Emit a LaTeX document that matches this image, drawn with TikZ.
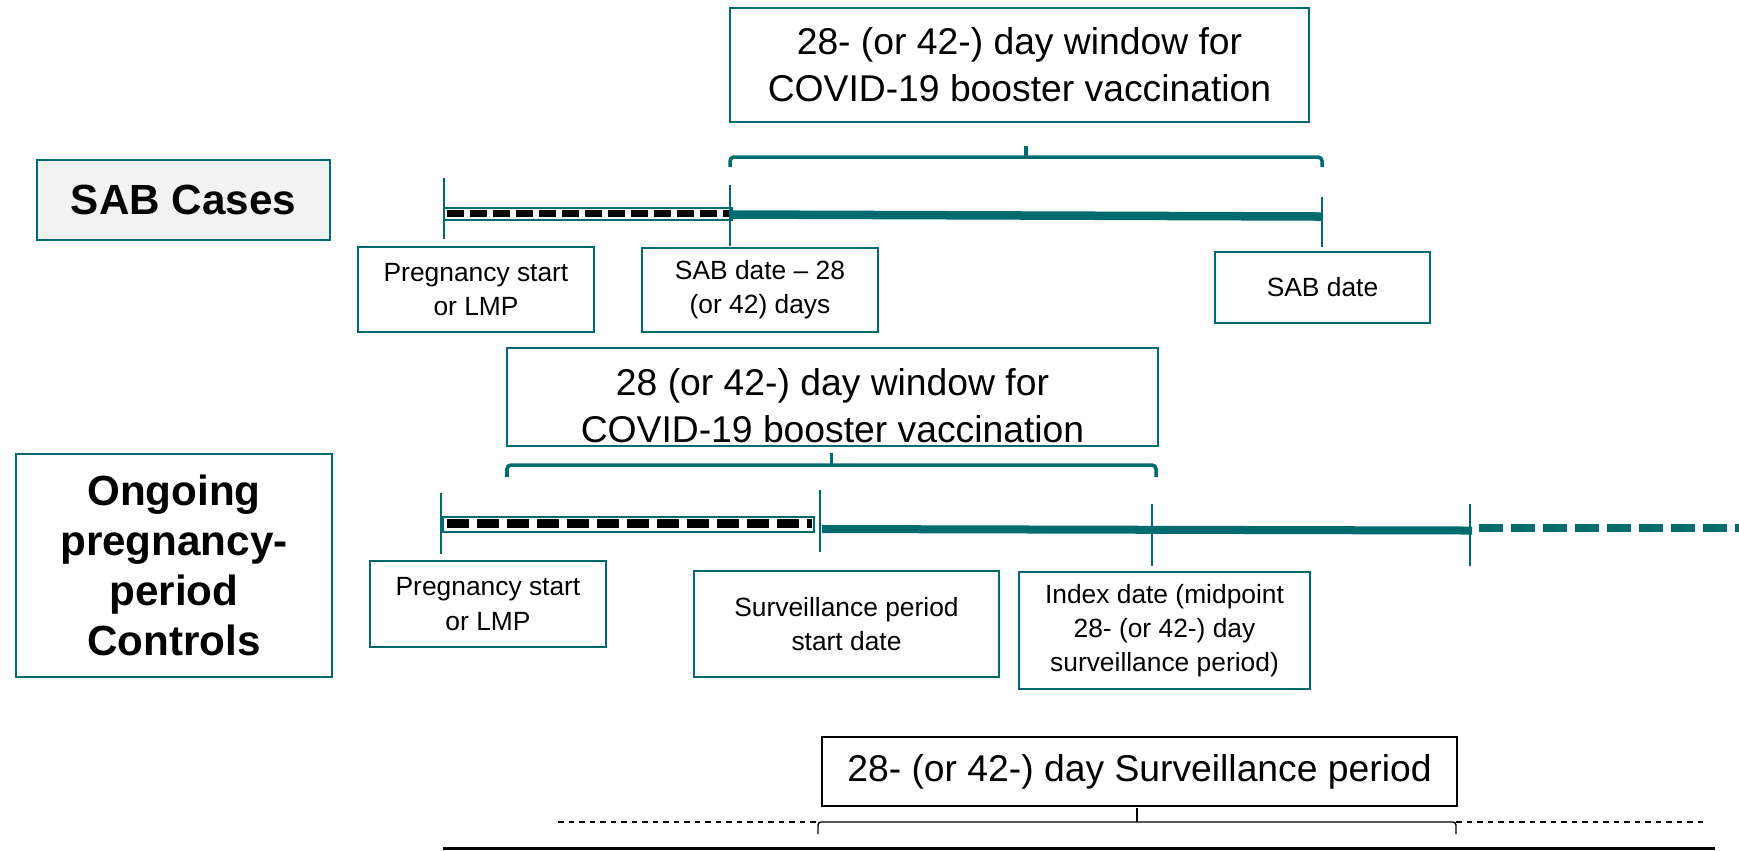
\documentclass[tikz,border=0pt]{standalone}
\usepackage{fontspec}
\setmainfont{Liberation Sans}
\usepackage{tikz}
\usetikzlibrary{positioning,calc}
\definecolor{cteal}{HTML}{006B6E}
\definecolor{cpanel}{HTML}{F2F2F2}
\newcommand{\fbig}{\fontsize{10.6}{13.4}\selectfont}
\newcommand{\fsmall}{\fontsize{7.5}{9.7}\selectfont}
\newcommand{\fgrp}{\fontsize{12}{14.2}\selectfont\bfseries}

\begin{document}
\begin{tikzpicture}[
  x=0.01cm, y=-0.01cm,
  box/.style={draw=cteal, line width=0.5pt, align=center, inner sep=0pt},
  datebox/.style={box, font=\fsmall},
  winbox/.style={box, font=\fbig},
  grpbox/.style={box, line width=0.7pt, font=\fgrp},
  tick/.style={draw=cteal, line width=0.35pt},
  span/.style={draw=cteal, line width=0.085cm},
  brace/.style={draw=cteal, line width=1pt, rounded corners=0.04cm},
  barframe/.style={draw=cteal, line width=0.6pt},
  bardash/.style={draw=black, line width=0.075cm},
  sbrace/.style={draw=black, line width=0.4pt, rounded corners=0.03cm}
]
  \useasboundingbox (0,0) rectangle (1739,850);

  % SAB cases
  \node[grpbox, fill=cpanel, minimum width=2.93cm, minimum height=0.80cm] (sabgrp) at (183.5,200) {SAB Cases};
  \node[winbox, minimum width=5.79cm, minimum height=1.14cm] (sabwin) at (1019.5,65) {28- (or 42-) day window for\\COVID-19 booster vaccination};
  \node[datebox, minimum width=2.36cm, minimum height=0.85cm] (sabpreg) at (476,289.5) {Pregnancy start\\or LMP};
  \node[datebox, minimum width=2.36cm, minimum height=0.84cm] (sabm28) at (760,290) {SAB date -- 28\\(or 42) days};
  \node[datebox, minimum width=2.15cm, minimum height=0.71cm] (sabdate) at (1322.5,287.5) {SAB date};

  \coordinate (sStart) at (444,214);
  \coordinate (sWin) at (731,214.5);
  \coordinate (sEnd) at (1322,216.5);

  \draw[barframe] ($(sStart)+(0,-6)$) rectangle ($(sWin)+(1,5.5)$);
  \draw[bardash, dash pattern=on 0.17cm off 0.06cm] ($(sStart)+(3,-0.5)$) -- ($(sWin)+(-2,-1)$);
  \draw[span] (sWin) -- (sEnd);
  \draw[tick] ($(sStart)+(0,-36)$) -- ($(sStart)+(0,25)$);
  \draw[tick] ($(sWin)+(-1,-29.5)$) -- ($(sWin)+(-1,31.5)$);
  \draw[tick] ($(sEnd)+(0,-19.5)$) -- ($(sEnd)+(0,30.5)$);

  \coordinate (sbL) at (730,167);
  \coordinate (sbR) at (1322,167);
  \draw[brace] (sbL) -- ++(0,-10) -| (sbR);
  \draw[brace] ($(sbL)!0.5!(sbR)+(0,-10)$) -- ++(0,-11);

  % Ongoing pregnancy-period controls
  \node[grpbox, minimum width=3.16cm, minimum height=2.23cm] (ctlgrp) at (174,565.5) {Ongoing\\pregnancy-\\period\\Controls};
  \node[box, minimum width=6.51cm, minimum height=0.98cm] (ctlwin) at (832.5,397) {};
  \node[font=\fbig, align=center, inner sep=0pt] (ctlwintxt) at (832.5,406) {28 (or 42-) day window for\\COVID-19 booster vaccination};
  \node[datebox, minimum width=2.36cm, minimum height=0.86cm] (ctlpreg) at (488,604) {Pregnancy start\\or LMP};
  \node[datebox, minimum width=3.05cm, minimum height=1.06cm] (ctlsurv) at (846.5,624) {Surveillance period\\start date};
  \node[datebox, minimum width=2.91cm, minimum height=1.17cm] (ctlidx) at (1164.5,630.5) {Index date (midpoint\\28- (or 42-) day\\surveillance period)};

  \coordinate (cStart) at (441,524);
  \coordinate (cSurv) at (821,529);
  \coordinate (cIdx) at (1152,530);
  \coordinate (cStop) at (1470,530.5);
  \coordinate (cNext) at (1479,528);
  \coordinate (cRight) at (1739,528);

  \draw[barframe] ($(cStart)+(2,-7)$) rectangle ($(cSurv)+(-7,3)$);
  \draw[bardash, line width=0.085cm, dash pattern=on 0.22cm off 0.08cm] ($(cStart)+(6,-0.5)$) -- ($(cSurv)+(-9,-5.5)$);
  \draw[span, line width=0.08cm] ($(cSurv)+(1,0)$) -- ($(cStop)+(2,0)$);
  \draw[span, line width=0.08cm, dash pattern=on 0.24cm off 0.08cm] (cNext) -- (cRight);
  \draw[tick] ($(cStart)+(0,-31)$) -- ($(cStart)+(0,30)$);
  \draw[tick] ($(cSurv)+(-1,-39)$) -- ($(cSurv)+(-1,23)$);
  \draw[tick] ($(cIdx)+(0,-26)$) -- ($(cIdx)+(0,36)$);
  \draw[tick] ($(cStop)+(0,-26.5)$) -- ($(cStop)+(0,35.5)$);

  \coordinate (cbL) at (507,477);
  \coordinate (cbR) at (1156,477);
  \draw[brace] (cbL) -- ++(0,-12) -| (cbR);
  \draw[brace] ($(cbL)!0.5!(cbR)+(0,-12)$) -- ++(0,-12);

  % Surveillance period
  \node[box, draw=black, line width=0.7pt, font=\fbig, minimum width=6.35cm, minimum height=0.69cm] (survbox) at (1139.5,771.5) {28- (or 42-) day Surveillance period};

  \coordinate (pL) at (818,834);
  \coordinate (pR) at (1456,834);
  \coordinate (pFar) at (558,822);
  \coordinate (pEnd) at (1708,822);
  \draw[sbrace] (pL) -- ++(0,-12) -| (pR);
  \draw[sbrace] ($(pL)!0.5!(pR)+(0,-12)$) -- ++(0,-14);
  \draw[black, line width=0.45pt, dash pattern=on 0.055cm off 0.05cm] (pFar) -- ($(pL)+(0,-12)$);
  \draw[black, line width=0.45pt, dash pattern=on 0.055cm off 0.05cm] ($(pR)+(0,-12)$) -- (pEnd);

  \coordinate (aL) at (443,848.5);
  \coordinate (aR) at (1715,848.5);
  \draw[black, line width=0.6pt] (aL) -- (aR);

\end{tikzpicture}
\end{document}
